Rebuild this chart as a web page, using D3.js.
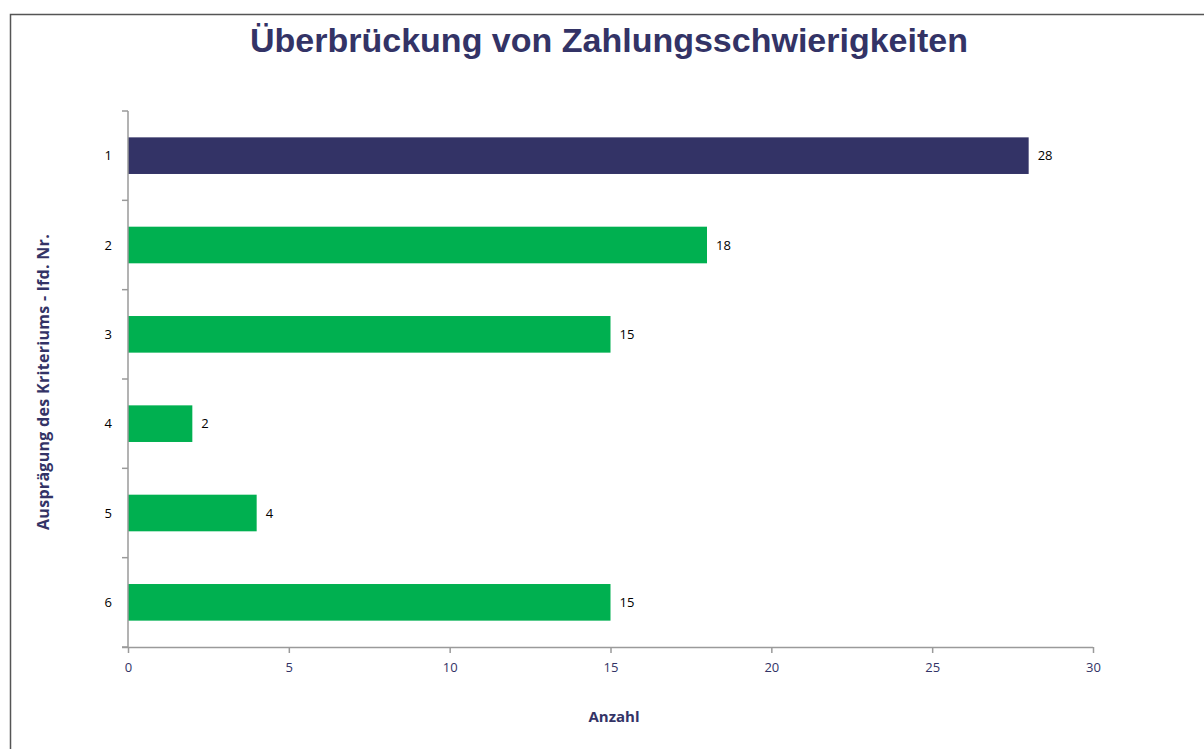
<!DOCTYPE html>
<html>
<head>
<meta charset="utf-8">
<script src="https://d3js.org/d3.v7.min.js"></script>
<style>
  body { margin: 0; background: #fff; }
  svg { display: block; font-family: "Open Sans", "Noto Sans", sans-serif; }
</style>
</head>
<body>
<svg width="1204" height="749"></svg>
<script>
// data
var categories = ["1", "2", "3", "4", "5", "6"];
var values = [28, 18, 15, 2, 4, 15];
var xTicks = [0, 5, 10, 15, 20, 25, 30];

var svg = d3.select("svg");
var navy = "#333366", green = "#00b050", axisGrey = "#9a9a9a";

// outer frame
svg.append("rect")
  .attr("x", 10.5).attr("y", 14.5)
  .attr("width", 1210).attr("height", 760)
  .attr("fill", "none").attr("stroke", "#555").attr("stroke-width", 1.5);

svg.append("text")
  .attr("x", 609).attr("y", 52)
  .attr("text-anchor", "middle")
  .attr("font-family", "Liberation Sans, Arial, sans-serif")
  .attr("font-weight", "bold").attr("font-size", 34)
  .attr("fill", navy)
  .text("Überbrückung von Zahlungsschwierigkeiten");

var x = d3.scaleLinear().domain([0, 30]).range([128, 1093]);
var y = d3.scaleBand().domain(categories).range([111, 647]).paddingInner(0.59).paddingOuter(0.295);

// bars
svg.append("g").selectAll("rect")
  .data(values)
  .enter().append("rect")
    .attr("x", x(0))
    .attr("y", function(d, i) { return y(categories[i]); })
    .attr("width", function(d) { return x(d) - x(0); })
    .attr("height", y.bandwidth())
    .attr("fill", function(d, i) { return i === 0 ? navy : green; });

// value labels
svg.append("g").selectAll("text")
  .data(values)
  .enter().append("text")
    .attr("x", function(d) { return x(d) + 9; })
    .attr("y", function(d, i) { return y(categories[i]) + y.bandwidth() / 2; })
    .attr("dy", "0.35em")
    .attr("font-size", 13)
    .attr("fill", "#000")
    .text(function(d) { return d; });

// y axis with ticks between categories
var yg = svg.append("g");
yg.append("line")
  .attr("x1", 128).attr("x2", 128).attr("y1", 111).attr("y2", 647)
  .attr("stroke", axisGrey).attr("stroke-width", 1.5);
var bounds = d3.range(categories.length + 1).map(function(i) { return 111 + i * (536 / categories.length); });
yg.selectAll(".tk").data(bounds).enter().append("line")
  .attr("x1", 122).attr("x2", 128)
  .attr("y1", function(d) { return d; }).attr("y2", function(d) { return d; })
  .attr("stroke", axisGrey).attr("stroke-width", 1.5);
yg.selectAll(".lb").data(categories).enter().append("text")
  .attr("x", 112)
  .attr("y", function(d) { return y(d) + y.bandwidth() / 2; })
  .attr("dy", "0.35em")
  .attr("text-anchor", "end")
  .attr("font-size", 13)
  .attr("fill", "#000")
  .text(function(d) { return d; });

// x axis
var xg = svg.append("g").attr("transform", "translate(0,647)")
  .call(d3.axisBottom(x).tickValues(xTicks).tickSize(6).tickSizeOuter(0).tickPadding(10));
xg.select(".domain").attr("stroke", axisGrey).attr("stroke-width", 1.5)
  .attr("d", "M122,0.5H1093");
xg.selectAll(".tick line").attr("stroke", axisGrey).attr("stroke-width", 1.5);
xg.selectAll(".tick text")
  .attr("font-family", "Open Sans, sans-serif")
  .attr("font-size", 13).attr("fill", navy);

// axis titles
svg.append("text")
  .attr("x", 614).attr("y", 722)
  .attr("text-anchor", "middle")
  .attr("font-weight", "bold").attr("font-size", 15)
  .attr("fill", navy)
  .text("Anzahl");

svg.append("text")
  .attr("transform", "translate(49,382) rotate(-90)")
  .attr("text-anchor", "middle")
  .attr("font-weight", "bold").attr("font-size", 16)
  .attr("letter-spacing", 0.3)
  .attr("fill", navy)
  .text("Ausprägung des Kriteriums - lfd. Nr.");
</script>
</body>
</html>
